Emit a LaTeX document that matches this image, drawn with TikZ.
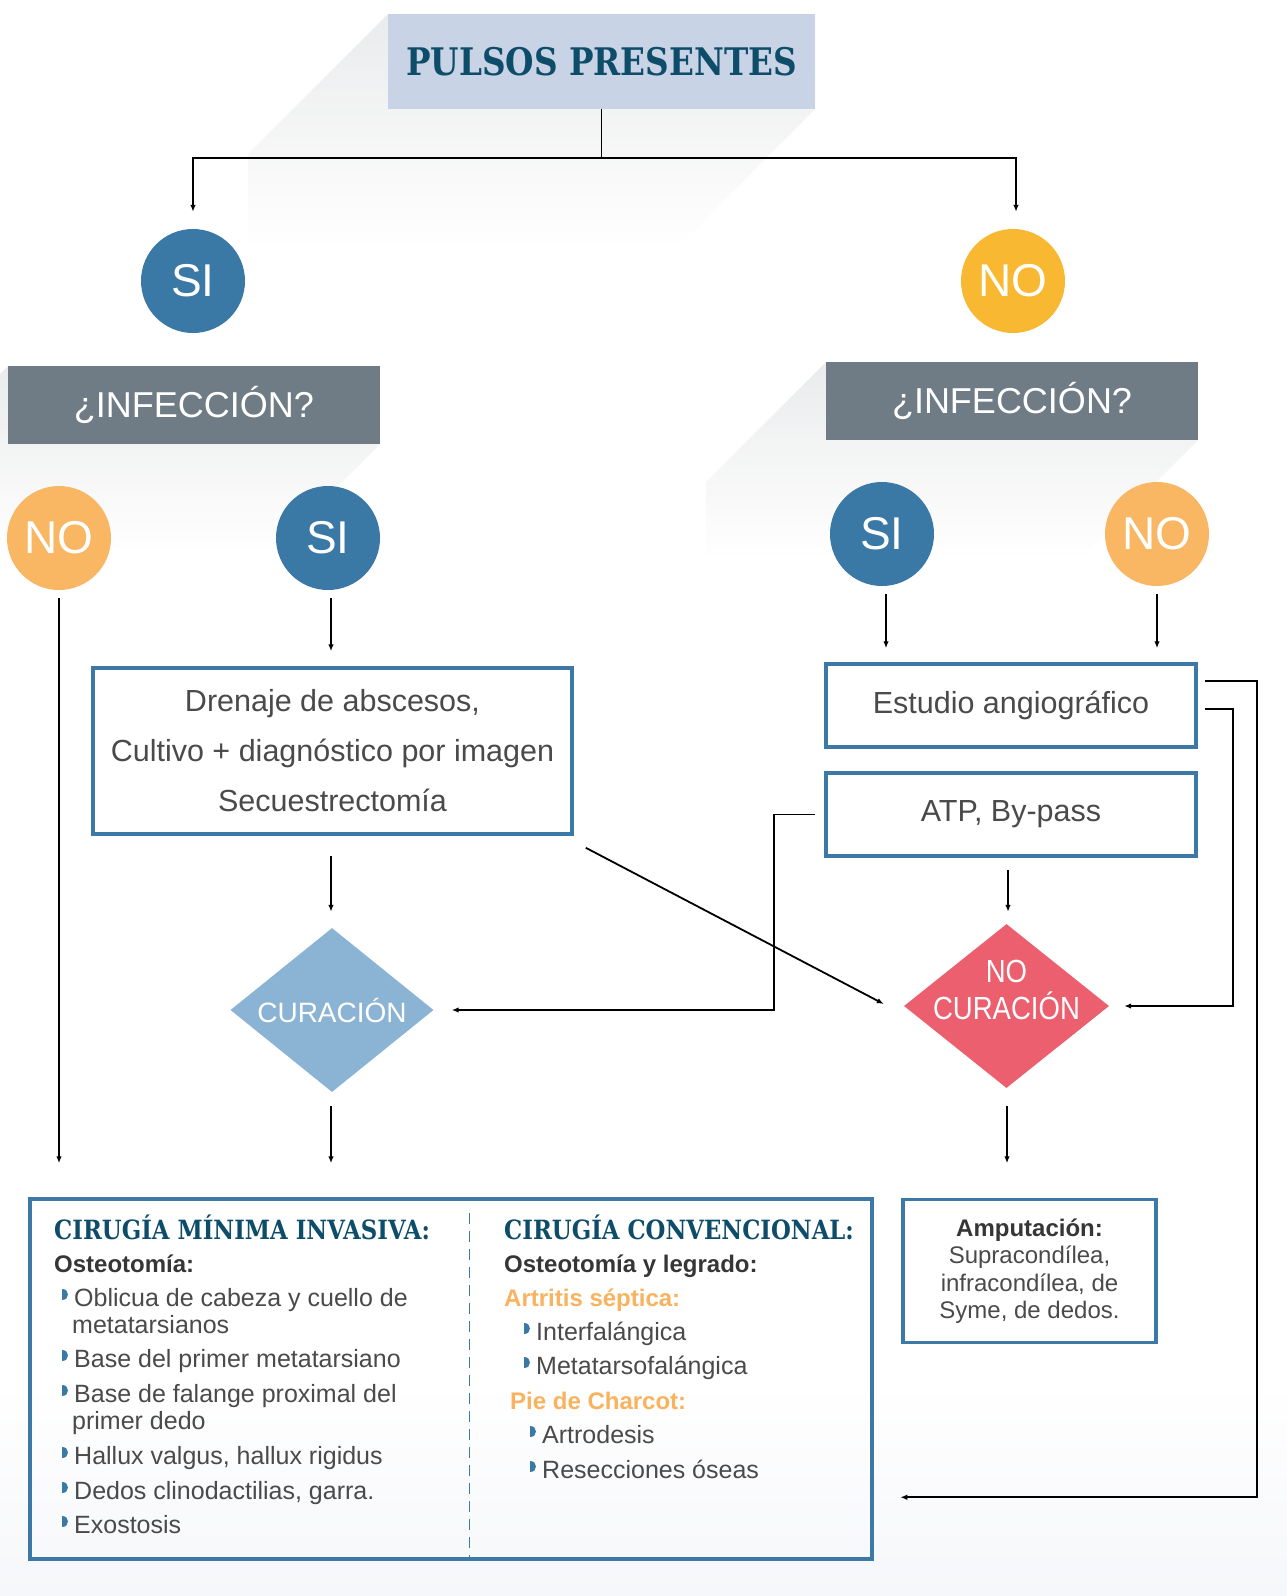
\documentclass[tikz,border=0pt]{standalone}
\usepackage{fontspec}
\setmainfont{Liberation Sans}
\newfontfamily\slab{DejaVu Serif}[FakeStretch=0.86]
\newfontfamily\cond{Liberation Sans}[FakeStretch=0.86]
\usetikzlibrary{shapes.geometric,arrows.meta,calc}
\definecolor{ttl}{HTML}{C8D3E5}
\definecolor{tealc}{HTML}{0E4D6A}
\definecolor{sib}{HTML}{3A78A5}
\definecolor{noy}{HTML}{F9B832}
\definecolor{noo}{HTML}{F9B663}
\definecolor{gbox}{HTML}{707C85}
\definecolor{bord}{HTML}{3D79A6}
\definecolor{cur}{HTML}{8BB4D4}
\definecolor{nocur}{HTML}{EC5F6E}
\definecolor{txt}{HTML}{4A4A4A}
\definecolor{dk}{HTML}{363636}
\definecolor{org}{HTML}{F9B25E}
\definecolor{bgb}{HTML}{F6F7FA}
\definecolor{shd}{HTML}{EAEBEC}
\newcommand\lshadow[5]{\shade[top color=shd, bottom color=white]
  (#1,#2) -- (#3,#2) -- (#3,#4) -- (#3-#5,#4+#5) -- (#1-#5,#4+#5) -- (#1-#5,#2+#5) -- cycle;}
\newcommand\blt[4]{\fill[sib] (#1,#2-17.5) .. controls (#1+8,#2-17.5) and (#1+8,#2-6) .. (#1,#2-6) -- cycle;
  \node[body, anchor=base west] (#4) at (#1+12,#2) {#3};}
\begin{document}
\begin{tikzpicture}[x=1pt,y=-1pt,
  line/.style={line width=1.8pt, draw=black},
  arr/.style={line width=1.8pt, draw=black, -{Latex[length=7pt,width=5.5pt]}},
  circ/.style={circle, inner sep=0pt, minimum size=104pt, text=white, font=\fontsize{46}{46}\selectfont},
  infbox/.style={fill=gbox, inner sep=0pt, minimum width=372pt, minimum height=78pt, text=white, font=\fontsize{36}{36}\selectfont},
  box/.style={draw=bord, line width=3.5pt, inner sep=0pt},
  boxtxt/.style={text=txt, font=\fontsize{30.5}{50}\selectfont, align=center},
  dia/.style={diamond, inner sep=0pt},
  diatxt/.style={text=white, inner sep=0pt, anchor=base},
  body/.style={text=txt, inner sep=0pt, font=\fontsize{25}{28}\selectfont},
  hd/.style={text=tealc, inner sep=0pt, anchor=base west, font=\slab\bfseries\fontsize{26.5}{30}\selectfont},
  sub/.style={text=dk, inner sep=0pt, anchor=base west, font=\bfseries\fontsize{24}{28}\selectfont},
  subo/.style={text=org, inner sep=0pt, anchor=base west, font=\bfseries\fontsize{24}{28}\selectfont}
]
\useasboundingbox (0,0) rectangle (1287,1596);
\fill[white] (0,0) rectangle (1287,1596);
\shade[top color=white, bottom color=bgb] (0,1380) rectangle (1287,1596);
% long shadows
\lshadow{388}{14}{815}{109}{140}
\lshadow{8}{366}{380}{444}{110}
\lshadow{826}{362}{1198}{440}{120}

% nodes
\node[fill=ttl, inner sep=0pt, minimum width=427pt, minimum height=95pt, text=tealc,
  font=\slab\bfseries\fontsize{38}{38}\selectfont] (title) at (601.5,61.5) {PULSOS PRESENTES};
\node[circ, fill=sib] (si1) at (193,281) {SI};
\node[circ, fill=noy] (no1) at (1013,281) {NO};
\node[infbox] (inf1) at (194,405) {¿INFECCIÓN?};
\node[infbox] (inf2) at (1012,401) {¿INFECCIÓN?};
\node[circ, fill=noo] (no2) at (59,538) {NO};
\node[circ, fill=sib] (si2) at (328,538) {SI};
\node[circ, fill=sib] (si3) at (882,534) {SI};
\node[circ, fill=noo] (no3) at (1157,534) {NO};

\node[box, boxtxt, minimum width=479pt, minimum height=166pt] (dren) at (332.5,751)
  {Drenaje de abscesos,\\Cultivo + diagnóstico por imagen\\Secuestrectomía};
\node[box, boxtxt, minimum width=370pt, minimum height=83pt] (est) at (1011,705.5) {Estudio angiográfico};
\node[box, boxtxt, minimum width=370pt, minimum height=83pt] (atp) at (1011,814.5) {ATP, By-pass};

\node[dia, fill=cur, minimum width=203pt, minimum height=164pt] (cur) at (332,1010) {};
\node[diatxt, font=\fontsize{28}{28}\selectfont] (curt) at ($(cur.center)+(0,12)$) {CURACIÓN};
\node[dia, fill=nocur, minimum width=205pt, minimum height=164pt] (nocur) at (1006.5,1006) {};
\node[diatxt, font=\cond\fontsize{32}{32}\selectfont] (nct1) at ($(nocur.center)+(0,-24)$) {NO};
\node[diatxt, font=\cond\fontsize{32}{32}\selectfont] (nct2) at ($(nocur.center)+(0,13)$) {CURACIÓN};

\node[box, minimum width=842pt, minimum height=360pt] (big) at (451,1379) {};
\node[box, minimum width=253pt, minimum height=143pt, text=txt, align=center,
  font=\fontsize{24}{27.5}\selectfont] (amp) at (1029.5,1271)
  {{\color{dk}\bfseries Amputación:}\\Supracondílea,\\infracondílea, de\\Syme, de dedos.};

\draw[bord, line width=1.3pt, dash pattern=on 11pt off 7pt] ($(big.north west)+(441,16)$) -- ($(big.south west)+(441,-4)$);

% left column
\node[hd] (h1) at (54,1239) {CIRUGÍA MÍNIMA INVASIVA:};
\node[sub] (s1) at (54,1272) {Osteotomía:};
\blt{62}{1306}{Oblicua de cabeza y cuello de}{b1}
\node[body, anchor=base west] (b1b) at (72,1333) {metatarsianos};
\blt{62}{1367}{Base del primer metatarsiano}{b2}
\blt{62}{1402}{Base de falange proximal del}{b3}
\node[body, anchor=base west] (b3b) at (72,1429) {primer dedo};
\blt{62}{1464}{Hallux valgus, hallux rigidus}{b4}
\blt{62}{1499}{Dedos clinodactilias, garra.}{b5}
\blt{62}{1533}{Exostosis}{b6}

% right column
\node[hd] (h2) at (504,1239) {CIRUGÍA CONVENCIONAL:};
\node[sub] (s2) at (504,1272) {Osteotomía y legrado:};
\node[subo] (o1) at (504,1306) {Artritis séptica:};
\blt{524}{1340}{Interfalángica}{c1}
\blt{524}{1374}{Metatarsofalángica}{c2}
\node[subo] (o2) at (510,1409) {Pie de Charcot:};
\blt{530}{1443}{Artrodesis}{c3}
\blt{530}{1478}{Resecciones óseas}{c4}

% connectors
\coordinate (jt) at (601.5,158);
\draw[line] (title.south) -- (jt);
\draw[arr] (jt) -| ($(si1.north)+(0,-17)$);
\draw[arr] (jt) -| ($(no1.north)+(3,-17)$);
\draw[arr] ($(no2.south)+(0,8)$) -- ($(no2.south |- big.north)+(0,-34)$);
\draw[arr] ($(si2.south)+(3,8)$) -- ($(si2.south |- dren.north)+(3,-15)$);
\draw[arr] ($(si3.south)+(4,8)$) -- ($(si3.south |- est.north)+(4,-14)$);
\draw[arr] ($(no3.south)+(0,8)$) -- ($(no3.south |- est.north)+(0,-14)$);
\draw[arr] ($(dren.south)+(-1.5,20)$) -- ($(cur.north)+(-1,-16)$);
\draw[arr] ($(cur.south)+(-1,14)$) -- ($(cur.south |- big.north)+(-1,-34)$);
\draw[arr] ($(atp.south)+(-3,12)$) -- ($(atp.south |- nocur.north)+(-3,-12)$);
\draw[arr] ($(nocur.south)+(0.5,18)$) -- ($(nocur.south |- big.north)+(0.5,-34)$);
\draw[arr] ($(atp.west)+(-9,0)$) -- ++(-41,0) |- ($(cur.east)+(18,0)$);
\draw[arr] ($(dren.south east)+(12,12)$) -- ($(nocur.west)+(-20,-2)$);
\draw[arr] ($(est.north east)+(7,47)$) -- ++(28,0) |- ($(nocur.east)+(15,0)$);
\draw[arr] ($(est.north east)+(7,19)$) -- ++(52,0) |- ($(amp.south west)+(-1,153)$);
\end{tikzpicture}
\end{document}
